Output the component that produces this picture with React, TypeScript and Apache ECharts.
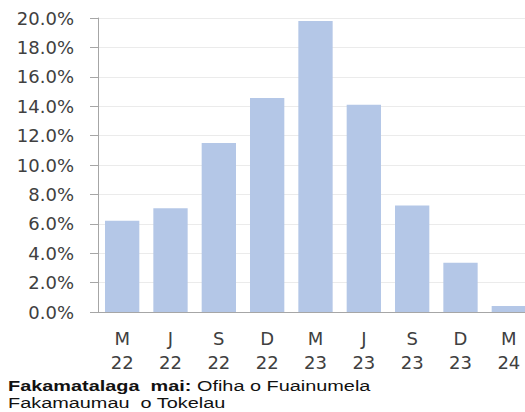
import React, { useEffect, useRef } from "react";
import * as echarts from "echarts";

const months = ["M", "J", "S", "D", "M", "J", "S", "D", "M"];
const years = ["22", "22", "22", "22", "23", "23", "23", "23", "24"];
const values = [6.2, 7.05, 11.5, 14.55, 19.8, 14.1, 7.25, 3.35, 0.4];
const yTicks = { min: 0, max: 20, interval: 2 };
const sourceBold = "Fakamatalaga  mai:";
const sourceRest = " Ofiha o Fuainumela";
const sourceLine2 = "Fakamaumau  o Tokelau";

export default function App() {
  const ref = useRef<HTMLDivElement>(null);
  useEffect(() => {
    if (!ref.current) return;
    const chart = echarts.init(ref.current, null, { renderer: "svg" });
    const categories = months.map((m, i) => `${m}\n${years[i]}`);
    chart.setOption({
      animation: false,
      grid: { left: 98, top: 18, right: 0, bottom: 100, containLabel: false },
      xAxis: {
        type: "category",
        data: categories,
        axisLine: { show: true, lineStyle: { color: "#A6A6A6", width: 1 } },
        axisTick: { show: false },
        axisLabel: {
          interval: 0,
          margin: 14,
          color: "#404040",
          fontFamily: "DejaVu Sans",
          fontSize: 18,
          lineHeight: 24,
        },
      },
      yAxis: {
        type: "value",
        min: yTicks.min,
        max: yTicks.max,
        interval: yTicks.interval,
        axisLine: { show: true, lineStyle: { color: "#A6A6A6", width: 1 } },
        axisTick: { show: true, inside: false, length: 8, lineStyle: { color: "#A6A6A6" } },
        splitLine: { show: true, lineStyle: { color: "#EBEBEB", width: 1 } },
        axisLabel: {
          margin: 24,
          color: "#404040",
          fontFamily: "DejaVu Sans",
          fontSize: 18,
          formatter: (v: number) => v.toFixed(1) + "%",
        },
      },
      series: [
        {
          type: "bar",
          data: values,
          barCategoryGap: "29%",
          itemStyle: { color: "#B4C7E7" },
        },
      ],
      graphic: [
        {
          type: "text",
          x: 8,
          y: 379,
          scaleX: 1.42,
          style: {
            text: `{b|${sourceBold}}{r|${sourceRest}}`,
            rich: {
              b: { fontFamily: "Liberation Sans", fontSize: 14, fontWeight: "bold", fill: "#111" },
              r: { fontFamily: "Liberation Sans", fontSize: 14, fill: "#111" },
            },
          },
        },
        {
          type: "text",
          x: 8,
          y: 396,
          scaleX: 1.42,
          style: {
            text: sourceLine2,
            fontFamily: "Liberation Sans",
            fontSize: 14,
            fill: "#111",
          },
        },
      ],
    });
    return () => chart.dispose();
  }, []);
  return (
    <div
      style={{ position: "absolute", left: 0, top: 0, width: 525, height: 412, overflow: "hidden", background: "#fff" }}
    >
      <div ref={ref} style={{ width: 533, height: 412 }} />
    </div>
  );
}
